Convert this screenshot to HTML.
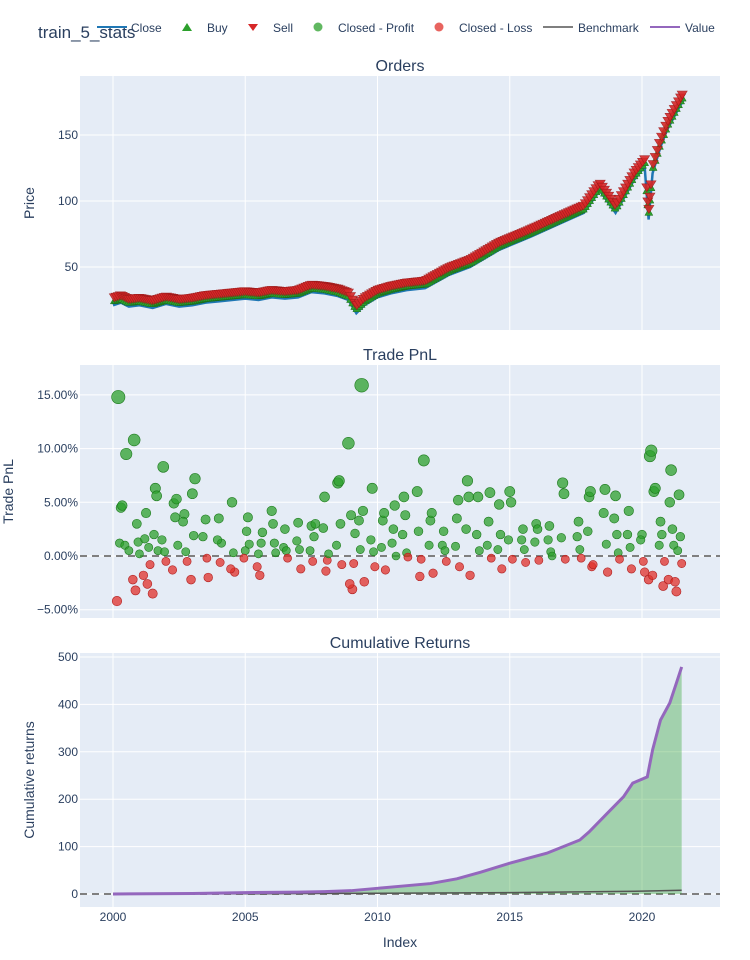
<!DOCTYPE html>
<html><head><meta charset="utf-8"><style>
body{margin:0;background:#fff;}
svg{display:block;font-family:"Liberation Sans",sans-serif;}
</style></head><body>
<svg id="fig" width="750" height="960"></svg>
<script>
const priceYears=[2000.0,2000.3,2000.6,2001.0,2001.5,2002.0,2002.5,2003.0,2003.5,2004.0,2004.5,2005.0,2005.5,2006.0,2006.5,2007.0,2007.5,2008.0,2008.5,2008.9,2009.2,2009.5,2010.0,2010.5,2011.1,2011.8,2012.7,2013.5,2014.6,2015.8,2016.9,2017.8,2018.4,2019.0,2019.7,2020.1,2020.25,2020.4,2020.7,2020.95,2021.3,2021.55];
const priceValues=[21,23,20,21,19,22,20,21,23,24,25,26,25,27,26,27,31,30,28,25,15,21,27,30,32.5,34,44,50,63,73,83,91,108,91,116,126,86,121,141,154,167,176];
const orderDates=[2000.05,2000.12,2000.2,2000.28,2000.35,2000.43,2000.5,2000.58,2000.66,2000.74,2000.82,2000.9,2000.98,2001.06,2001.14,2001.22,2001.3,2001.38,2001.46,2001.54,2001.62,2001.7,2001.78,2001.86,2001.94,2002.02,2002.1,2002.18,2002.26,2002.34,2002.42,2002.5,2002.58,2002.66,2002.74,2002.82,2002.9,2002.98,2003.06,2003.14,2003.22,2003.3,2003.38,2003.46,2003.54,2003.62,2003.7,2003.78,2003.86,2003.94,2004.02,2004.1,2004.18,2004.26,2004.34,2004.42,2004.5,2004.58,2004.66,2004.74,2004.82,2004.9,2004.98,2005.06,2005.14,2005.22,2005.3,2005.38,2005.46,2005.54,2005.62,2005.7,2005.78,2005.86,2005.94,2006.02,2006.1,2006.18,2006.26,2006.34,2006.42,2006.5,2006.58,2006.66,2006.74,2006.82,2006.9,2006.98,2007.06,2007.14,2007.22,2007.3,2007.38,2007.46,2007.54,2007.62,2007.7,2007.78,2007.86,2007.94,2008.02,2008.1,2008.18,2008.26,2008.34,2008.42,2008.5,2008.58,2008.66,2008.74,2008.82,2008.9,2008.98,2009.06,2009.14,2009.22,2009.3,2009.38,2009.46,2009.54,2009.62,2009.7,2009.78,2009.86,2009.94,2010.02,2010.1,2010.18,2010.26,2010.34,2010.42,2010.5,2010.58,2010.66,2010.74,2010.82,2010.9,2010.98,2011.06,2011.14,2011.22,2011.3,2011.38,2011.46,2011.54,2011.62,2011.7,2011.78,2011.86,2011.94,2012.02,2012.1,2012.18,2012.26,2012.34,2012.42,2012.5,2012.58,2012.66,2012.74,2012.82,2012.9,2012.98,2013.06,2013.14,2013.22,2013.3,2013.38,2013.46,2013.54,2013.62,2013.7,2013.78,2013.86,2013.94,2014.02,2014.1,2014.18,2014.26,2014.34,2014.42,2014.5,2014.58,2014.66,2014.74,2014.82,2014.9,2014.98,2015.06,2015.14,2015.22,2015.3,2015.38,2015.46,2015.54,2015.62,2015.7,2015.78,2015.86,2015.94,2016.02,2016.1,2016.18,2016.26,2016.34,2016.42,2016.5,2016.58,2016.66,2016.74,2016.82,2016.9,2016.98,2017.06,2017.14,2017.22,2017.3,2017.38,2017.46,2017.54,2017.62,2017.7,2017.78,2017.86,2017.94,2018.02,2018.1,2018.18,2018.26,2018.34,2018.42,2018.5,2018.58,2018.66,2018.74,2018.82,2018.9,2018.98,2019.06,2019.14,2019.22,2019.3,2019.38,2019.46,2019.54,2019.62,2019.7,2019.78,2019.86,2019.94,2020.02,2020.1,2020.18,2020.22,2020.26,2020.3,2020.34,2020.42,2020.5,2020.58,2020.66,2020.74,2020.82,2020.9,2020.98,2021.06,2021.14,2021.22,2021.3,2021.38,2021.46,2021.52];
const cumYears=[2000,2003,2005,2007,2008,2009,2010,2011,2012,2013,2013.9,2015,2016.4,2017.65,2018.0,2018.7,2019.3,2019.65,2020.2,2020.4,2020.7,2021.05,2021.3,2021.5];
const cumValues=[0,1,3,4,5,7,12,17,22,32,46,65,86,114,131,171,205,234,247,304,367,403,445,479];
const benchYears=[2000,2005,2010,2015,2020,2021.5];
const benchValues=[0,0.5,1.5,3,6,8];
const pnlDates=[2000.2,2000.15,2000.25,2000.3,2000.35,2000.5,2000.45,2000.6,2000.8,2000.75,2000.85,2000.9,2000.95,2001.0,2001.2,2001.15,2001.3,2001.25,2001.35,2001.4,2001.6,2001.65,2001.55,2001.7,2001.5,2001.9,2001.85,2002.0,2001.95,2002.3,2002.35,2002.25,2002.4,2002.45,2002.7,2002.65,2002.8,2002.75,2003.0,2003.1,2003.05,2002.95,2003.5,2003.4,2003.55,2003.6,2004.0,2004.1,2003.95,2004.05,2004.5,2004.55,2004.6,2004.45,2005.0,2004.95,2005.05,2005.1,2005.15,2005.5,2005.45,2005.55,2005.6,2005.65,2006.0,2006.05,2006.1,2006.15,2006.5,2006.45,2006.55,2006.6,2007.0,2006.95,2007.05,2007.1,2007.5,2007.45,2007.55,2007.6,2007.65,2008.0,2007.95,2008.05,2008.1,2008.15,2008.5,2008.55,2008.6,2008.45,2008.65,2009.0,2008.9,2009.05,2008.95,2009.1,2009.15,2009.4,2009.3,2009.45,2009.35,2009.5,2009.8,2009.75,2009.85,2009.9,2010.2,2010.25,2010.15,2010.3,2010.6,2010.65,2010.55,2010.7,2011.0,2011.05,2010.95,2011.1,2011.15,2011.5,2011.75,2011.55,2011.6,2011.65,2012.0,2012.05,2011.95,2012.1,2012.5,2012.45,2012.55,2012.6,2013.0,2013.05,2012.95,2013.1,2013.4,2013.45,2013.35,2013.5,2013.8,2013.75,2013.85,2014.2,2014.25,2014.15,2014.3,2014.6,2014.65,2014.55,2014.7,2015.0,2015.05,2014.95,2015.1,2015.5,2015.45,2015.55,2015.6,2016.0,2016.05,2015.95,2016.1,2016.5,2016.45,2016.55,2016.6,2017.0,2017.05,2016.95,2017.1,2017.6,2017.55,2017.65,2017.7,2018.0,2018.05,2017.95,2018.1,2018.15,2018.6,2018.55,2018.65,2018.7,2019.0,2018.95,2019.05,2019.1,2019.15,2019.5,2019.45,2019.55,2019.6,2020.0,2019.95,2020.05,2020.1,2020.3,2020.35,2020.45,2020.5,2020.25,2020.4,2020.7,2020.75,2020.65,2020.8,2020.85,2021.1,2021.05,2021.15,2021.2,2021.0,2021.4,2021.45,2021.35,2021.3,2021.5,2021.25];
const pnlValues=[14.8,-4.2,1.2,4.5,4.7,9.5,1.0,0.5,10.8,-2.2,-3.2,3.0,1.3,0.2,1.6,-1.8,-2.6,4.0,0.8,-0.8,6.3,5.6,2.0,0.5,-3.5,8.3,1.5,-0.5,0.4,4.9,3.6,-1.3,5.3,1.0,3.9,3.2,-0.5,0.4,5.8,7.2,1.9,-2.2,3.4,1.8,-0.2,-2.0,3.5,1.2,1.5,-0.6,5.0,0.3,-1.5,-1.2,0.5,-0.2,2.3,3.6,1.1,0.2,-1.0,-1.8,1.2,2.2,4.2,3.0,1.2,0.3,2.5,0.8,0.5,-0.2,3.1,1.4,0.6,-1.2,2.8,0.5,-0.5,1.8,3.0,5.5,2.6,-1.4,-0.4,0.2,6.8,7.0,3.0,1.0,-0.8,3.8,10.5,-3.1,-2.6,-0.7,2.1,15.9,3.3,4.2,0.6,-2.4,6.3,1.5,0.4,-1.0,3.3,4.0,0.8,-1.3,2.5,4.7,1.2,0.0,5.5,3.8,2.0,0.3,-0.1,6.0,8.9,2.3,-1.9,-0.3,3.3,4.0,1.0,-1.6,2.3,1.0,0.5,-0.5,3.5,5.2,0.9,-1.0,7.0,5.5,2.5,-1.8,5.5,2.0,0.5,3.2,5.9,1.0,-0.2,4.8,2.0,0.6,-1.2,6.0,5.0,1.5,-0.3,2.5,1.5,0.6,-0.6,3.0,2.5,1.3,-0.4,2.8,1.5,0.4,0.0,6.8,5.8,1.7,-0.3,3.2,1.8,0.6,-0.2,5.5,6.0,2.3,-1.0,-0.8,6.2,4.0,1.1,-1.5,5.6,3.5,2.0,0.3,-0.3,4.2,2.0,0.8,-1.2,2.0,1.5,-0.5,-1.5,9.3,9.8,6.0,6.3,-2.2,-1.8,3.2,2.0,1.0,-2.8,-0.5,8.0,5.0,2.5,1.0,-2.2,5.7,1.8,0.5,-3.3,-0.7,-2.4];
const xTicks=[2000,2005,2010,2015,2020];
const priceTicks=[50,100,150];
const pnlTicks=[-5,0,5,10,15];
const cumTicks=[0,100,200,300,400,500];

const NS="http://www.w3.org/2000/svg";
const svg=document.getElementById('fig');
function el(tag,attrs,parent){const e=document.createElementNS(NS,tag);for(const k in attrs)e.setAttribute(k,attrs[k]);(parent||svg).appendChild(e);return e;}
const X0=80,X1=720;
const xs=y=>113+(y-2000)*26.45;
const pY=v=>333-v*1.32;
const nY=v=>556-v*10.74;
const cY=v=>894-v*0.474;
const panels=[[76,330,'Orders','Price','orders-panel'],[365,618,'Trade PnL','Trade PnL','pnl-panel'],[653,907,'Cumulative Returns','Cumulative returns','cum-panel']];
panels.forEach(p=>{
 const r=el('rect',{x:X0,y:p[0],width:X1-X0,height:p[1]-p[0],fill:'#e5ecf6'});
 
 xTicks.forEach(t=>{el('line',{x1:xs(t),x2:xs(t),y1:p[0],y2:p[1],stroke:'#fff','stroke-width':1});});
 const t=el('text',{x:400,y:p[0]-5,'text-anchor':'middle','font-size':16,fill:'#2a3f5f'});t.textContent=p[2];
 
 const yt=el('text',{x:0,y:0,'text-anchor':'middle','font-size':14,fill:'#2a3f5f',transform:`translate(${p[3]==='Cumulative returns'?34:p[3]==='Trade PnL'?13:34},${(p[0]+p[1])/2}) rotate(-90)`});yt.textContent=p[3];
 
});
function yAxis(ticks,f,fmt){ticks.forEach(t=>{el('line',{x1:X0,x2:X1,y1:f(t),y2:f(t),stroke:'#fff','stroke-width':1});const tx=el('text',{x:X0-2,y:f(t)+4,'text-anchor':'end','font-size':12,fill:'#2a3f5f'});tx.textContent=fmt(t);});}
yAxis(priceTicks,pY,t=>t);
yAxis(pnlTicks,nY,t=>(t<0?'\u2212'+(-t).toFixed(2):t.toFixed(2))+'%');
yAxis(cumTicks,cY,t=>t);
xTicks.forEach(t=>{const tx=el('text',{x:xs(t),y:921,'text-anchor':'middle','font-size':12,fill:'#2a3f5f'});tx.textContent=t;});
const xt=el('text',{x:400,y:947,'text-anchor':'middle','font-size':14,fill:'#2a3f5f'});xt.textContent='Index';


function interp(xa,ya,x){if(x<=xa[0])return ya[0];for(let i=1;i<xa.length;i++){if(x<=xa[i]){const t=(x-xa[i-1])/(xa[i]-xa[i-1]);return ya[i-1]+t*(ya[i]-ya[i-1]);}}return ya[ya.length-1];}
// Orders
const close=el('polyline',{points:priceYears.map((y,i)=>xs(y)+','+pY(priceValues[i])).join(' '),fill:'none',stroke:'#1f77b4','stroke-width':2.5});

const mg=el('g',{});
orderDates.forEach(d=>{const x=xs(d),y=pY(interp(priceYears,priceValues,d))-1;
 const b=el('path',{d:`M${x-4},${y}L${x+4},${y}L${x},${y-7}Z`,fill:'#2ca02c',stroke:'#1a6e1a','stroke-width':0.5},mg);
 
});
orderDates.forEach(d=>{const x=xs(d),y=pY(interp(priceYears,priceValues,d))-7;
 const s=el('path',{d:`M${x-5},${y-4}L${x+5},${y-4}L${x},${y+4}Z`,fill:'#d62728',stroke:'#a01a1a','stroke-width':0.6,opacity:0.9},mg);
 
});
// PnL
el('line',{x1:X0,x2:X1,y1:nY(0),y2:nY(0),stroke:'#7f7f7f','stroke-width':2,'stroke-dasharray':'7,5'});
const pg=el('g',{});
pnlDates.forEach((d,i)=>{const v=pnlValues[i];const c=el('circle',{cx:xs(d),cy:nY(v),r:4+Math.abs(v)*0.18,fill:v>=0?'#2ca02c':'#e0302a','fill-opacity':0.75,stroke:v>=0?'#1d7a1d':'#b02020','stroke-width':0.6},pg);
 });
// Cum returns
el('line',{x1:X0,x2:X1,y1:cY(0),y2:cY(0),stroke:'#7f7f7f','stroke-width':2,'stroke-dasharray':'7,5'});
const area=el('path',{d:'M'+xs(cumYears[0])+','+cY(0)+cumYears.map((y,i)=>'L'+xs(y)+','+cY(cumValues[i])).join('')+'L'+xs(cumYears[cumYears.length-1])+','+cY(0)+'Z',fill:'rgba(44,160,44,0.36)'});

const bl=el('polyline',{points:benchYears.map((y,i)=>xs(y)+','+cY(benchValues[i])).join(' '),fill:'none',stroke:'#555','stroke-width':1.5});

const vl=el('polyline',{points:cumYears.map((y,i)=>xs(y)+','+cY(cumValues[i])).join(' '),fill:'none',stroke:'#9467bd','stroke-width':3});

// Title & legend
const ti=el('text',{x:38,y:38,'font-size':17,fill:'#2a3f5f'});ti.textContent='train_5_stats';

const lg=el('g',{'font-size':12,fill:'#2a3f5f'});
function legText(x,t){const e=el('text',{x:x,y:32,fill:'#2a3f5f'},lg);e.textContent=t;return e;}
function legItem(name){const g=el('g',{},lg);return g;}
let g=legItem('legend-close');el('line',{x1:97,x2:127,y1:27,y2:27,stroke:'#1f77b4','stroke-width':2},g);g.appendChild(legText(131,'Close'));
g=legItem('legend-buy');el('path',{d:'M182,31L192,31L187,23Z',fill:'#2ca02c'},g);g.appendChild(legText(207,'Buy'));
g=legItem('legend-sell');el('path',{d:'M248,24L258,24L253,31Z',fill:'#d62728'},g);g.appendChild(legText(273,'Sell'));
g=legItem('legend-closed-profit');el('circle',{cx:318,cy:27,r:4.5,fill:'#2ca02c','fill-opacity':0.75},g);g.appendChild(legText(338,'Closed - Profit'));
g=legItem('legend-closed-loss');el('circle',{cx:439,cy:27,r:4.5,fill:'#e0302a','fill-opacity':0.75},g);g.appendChild(legText(459,'Closed - Loss'));
g=legItem('legend-benchmark');el('line',{x1:543,x2:573,y1:27,y2:27,stroke:'#7f7f7f','stroke-width':2},g);g.appendChild(legText(578,'Benchmark'));
g=legItem('legend-value');el('line',{x1:650,x2:680,y1:27,y2:27,stroke:'#9467bd','stroke-width':2},g);g.appendChild(legText(685,'Value'));
</script>
</body></html>
